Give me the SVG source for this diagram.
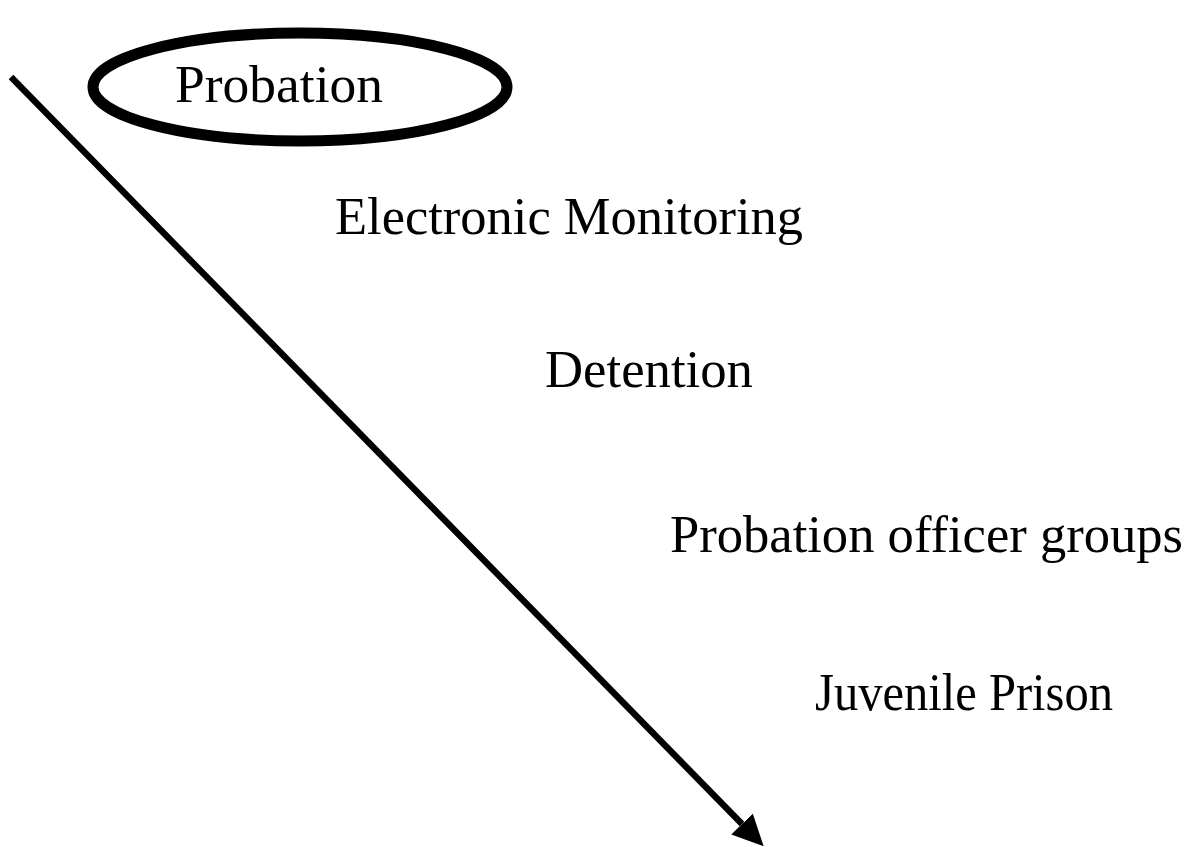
<svg xmlns="http://www.w3.org/2000/svg" width="1190" height="847" viewBox="0 0 1190 847">
  <style>
    .lbl { font-family: "Liberation Serif", "Times New Roman", serif; font-size: 53px; fill: #000; }
    .conn { stroke: #000; stroke-width: 6.5; fill: none; }
  </style>
  <defs>
    <marker id="arrow" markerUnits="userSpaceOnUse" markerWidth="32" markerHeight="32" refX="0" refY="15" orient="auto" viewBox="0 0 32 32">
      <path d="M0,0 L31,15 L0,30 z" fill="#000"/>
    </marker>
  </defs>
  <rect width="1190" height="847" fill="#fff"/>
  <g id="connectors">
    <line class="conn" x1="11" y1="77" x2="742" y2="824" marker-end="url(#arrow)"/>
  </g>
  <g id="node-probation">
    <ellipse cx="300" cy="87" rx="207" ry="54" fill="none" stroke="#000" stroke-width="11"/>
    <text class="lbl" x="175" y="102" textLength="208" lengthAdjust="spacingAndGlyphs">Probation</text>
  </g>
  <g id="node-electronic-monitoring">
    <text class="lbl" x="335" y="234" textLength="468" lengthAdjust="spacingAndGlyphs">Electronic Monitoring</text>
  </g>
  <g id="node-detention">
    <text class="lbl" x="545" y="387" textLength="208" lengthAdjust="spacingAndGlyphs">Detention</text>
  </g>
  <g id="node-probation-officer-groups">
    <text class="lbl" x="670" y="552" textLength="513" lengthAdjust="spacingAndGlyphs">Probation officer groups</text>
  </g>
  <g id="node-juvenile-prison">
    <text class="lbl" x="815" y="710" textLength="298" lengthAdjust="spacingAndGlyphs">Juvenile Prison</text>
  </g>
</svg>
